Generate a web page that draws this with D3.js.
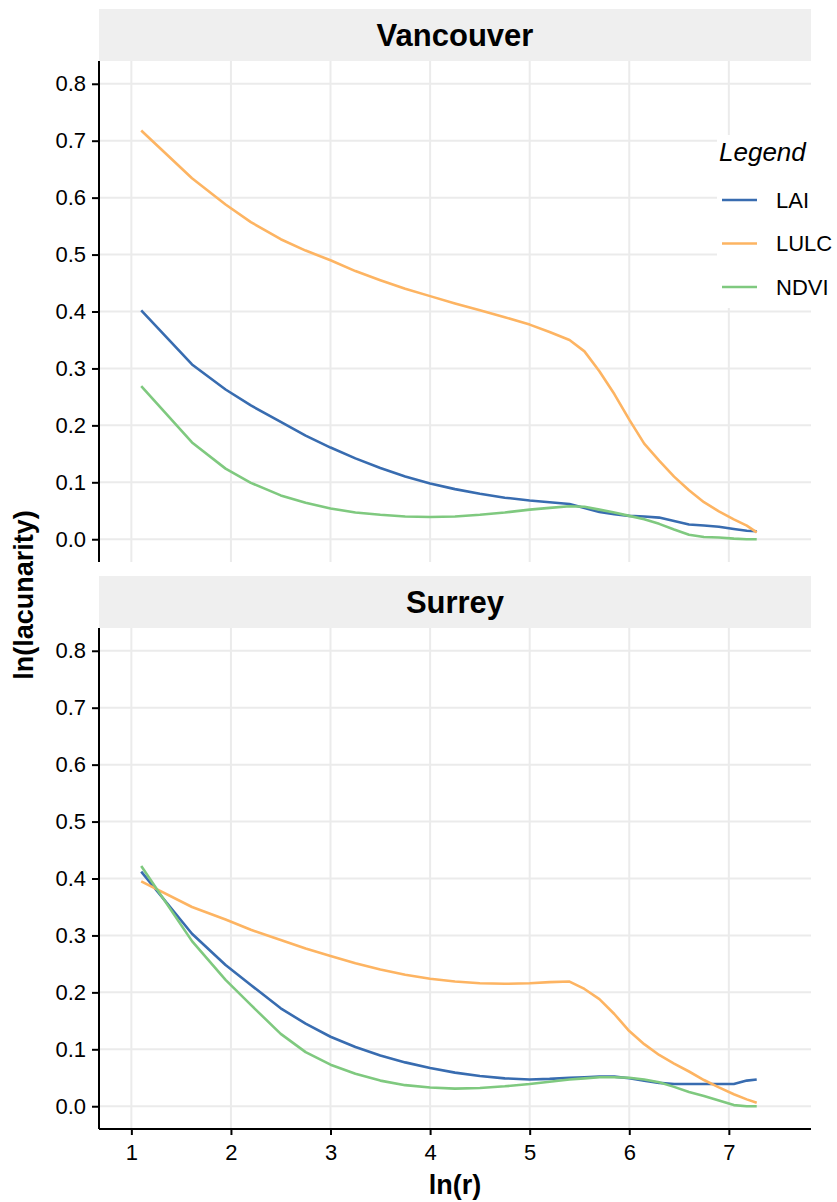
<!DOCTYPE html>
<html>
<head>
<meta charset="utf-8">
<script src="https://cdn.jsdelivr.net/npm/d3@7"></script>
<style>
  body { margin: 0; background: #fff; }
  text { font-family: "Liberation Sans", Arial, sans-serif; }
</style>
</head>
<body>
<svg id="chart"></svg>
<script>
// ln(r) sample positions
const lnR = [1.099, 1.609, 1.946, 2.2, 2.5, 2.75, 3.0, 3.25, 3.5, 3.75, 4.0, 4.25, 4.5, 4.75, 5.0,
  5.2, 5.4, 5.55, 5.7, 5.85, 6.0, 6.15, 6.3, 6.45, 6.6, 6.75, 6.9, 7.05, 7.18, 7.28]

const vanLAI = [0.402, 0.307, 0.263, 0.235, 0.206, 0.182, 0.161, 0.142, 0.125, 0.110, 0.098, 0.088, 0.080,
  0.073, 0.068, 0.065, 0.062, 0.055, 0.048, 0.044, 0.041, 0.040, 0.038, 0.032, 0.026, 0.024, 0.022, 0.018, 0.015, 0.014]
const vanLULC = [0.718, 0.634, 0.588, 0.557, 0.527, 0.507, 0.490, 0.471, 0.455, 0.440, 0.427, 0.414, 0.402,
  0.390, 0.377, 0.364, 0.350, 0.330, 0.295, 0.255, 0.210, 0.168, 0.138, 0.110, 0.086, 0.065, 0.049, 0.035, 0.024, 0.012]
const vanNDVI = [0.269, 0.170, 0.124, 0.099, 0.077, 0.064, 0.054, 0.047, 0.043, 0.040, 0.039, 0.040, 0.043,
  0.047, 0.052, 0.055, 0.058, 0.057, 0.052, 0.047, 0.041, 0.035, 0.027, 0.017, 0.008, 0.004, 0.003, 0.001, 0.000, 0.000]

const surLAI = [0.412, 0.303, 0.248, 0.213, 0.172, 0.145, 0.122, 0.104, 0.089, 0.077, 0.067, 0.059, 0.053,
  0.049, 0.047, 0.048, 0.050, 0.051, 0.052, 0.052, 0.049, 0.045, 0.041, 0.039, 0.039, 0.039, 0.039, 0.039, 0.045, 0.047]
const surLULC = [0.395, 0.350, 0.328, 0.310, 0.292, 0.277, 0.264, 0.251, 0.240, 0.231, 0.224, 0.219, 0.216,
  0.215, 0.216, 0.218, 0.219, 0.206, 0.188, 0.162, 0.132, 0.109, 0.090, 0.075, 0.061, 0.046, 0.033, 0.021, 0.012, 0.006]
const surNDVI = [0.422, 0.290, 0.222, 0.178, 0.127, 0.095, 0.073, 0.057, 0.045, 0.037, 0.033, 0.031, 0.032,
  0.035, 0.039, 0.043, 0.047, 0.049, 0.051, 0.051, 0.050, 0.047, 0.042, 0.034, 0.025, 0.018, 0.010, 0.002, 0.000, 0.000]

const seriesNames = ["LAI", "LULC", "NDVI"]
const seriesColors = ["#386CB0", "#FDB462", "#7FC97F"]
const facets = [
  {name: "Vancouver", values: [vanLAI, vanLULC, vanNDVI]},
  {name: "Surrey", values: [surLAI, surLULC, surNDVI]}
]
const xTicks = [1, 2, 3, 4, 5, 6, 7]
const yTicks = [0, 0.1, 0.2, 0.3, 0.4, 0.5, 0.6, 0.7, 0.8]

let
  width = 837,
  height = 1202,
  left = 99,
  right = 811,
  stripH = 52,
  panelH = 501

const panelTops = [61, 628]

const svg = d3.select("#chart")
  .attr("width", width)
  .attr("height", height)

const x = d3.scaleLinear().domain([0.675, 7.825]).range([left, right])

const line = d3.line()
  .x(d => x(d[0]))

facets.forEach((f, i) => {
  const top = panelTops[i]
  const y = d3.scaleLinear().domain([-0.04, 0.84]).range([top + panelH, top])
  const g = svg.append("g")

  // strip
  g.append("rect")
    .attr("x", left).attr("y", top - stripH)
    .attr("width", right - left).attr("height", stripH)
    .attr("fill", "#efefef")
  g.append("text")
    .attr("x", (left + right) / 2).attr("y", top - stripH / 2)
    .attr("dy", "0.36em")
    .attr("text-anchor", "middle")
    .attr("font-weight", "bold")
    .attr("font-size", 31)
    .text(f.name)

  // grid
  g.append("g").selectAll("line").data(yTicks).join("line")
    .attr("x1", left).attr("x2", right)
    .attr("y1", d => y(d)).attr("y2", d => y(d))
    .attr("stroke", "#ebebeb").attr("stroke-width", 2)
  g.append("g").selectAll("line").data(xTicks).join("line")
    .attr("x1", d => x(d)).attr("x2", d => x(d))
    .attr("y1", top).attr("y2", top + panelH)
    .attr("stroke", "#ebebeb").attr("stroke-width", 2)

  // lines
  f.values.forEach((vals, k) => {
    g.append("path")
      .datum(lnR.map((r, j) => [r, vals[j]]))
      .attr("fill", "none")
      .attr("stroke", seriesColors[k])
      .attr("stroke-width", 2.6)
      .attr("stroke-linejoin", "round")
      .attr("d", line.y(d => y(d[1])))
  })

  // y axis
  const ya = g.append("g")
    .attr("transform", `translate(${left},0)`)
    .call(d3.axisLeft(y).tickValues(yTicks).tickFormat(d3.format(".1f")).tickSize(7).tickPadding(6))
  ya.select(".domain").attr("stroke", "#000").attr("stroke-width", 2).attr("d", `M0,${top}V${top + panelH}`)
  ya.selectAll(".tick line").attr("stroke", "#000").attr("stroke-width", 2)
  ya.selectAll(".tick text").attr("fill", "#000").attr("font-size", 22)
    .attr("font-family", "Liberation Sans, Arial, sans-serif")

  if (i === facets.length - 1) {
    const xa = g.append("g")
      .attr("transform", `translate(0,${top + panelH})`)
      .call(d3.axisBottom(x).tickValues(xTicks).tickSize(6).tickPadding(9))
    xa.select(".domain").attr("stroke", "#000").attr("stroke-width", 2).attr("d", `M${left},0H${right}`)
    xa.selectAll(".tick line").attr("stroke", "#000").attr("stroke-width", 2)
    xa.selectAll(".tick text").attr("fill", "#000").attr("font-size", 22)
      .attr("font-family", "Liberation Sans, Arial, sans-serif")
  }
})

// axis titles
svg.append("text")
  .attr("transform", `translate(33,${(panelTops[0] + panelTops[1] + panelH) / 2}) rotate(-90)`)
  .attr("text-anchor", "middle")
  .attr("font-weight", "bold")
  .attr("font-size", 27)
  .text("ln(lacunarity)")

svg.append("text")
  .attr("x", (left + right) / 2).attr("y", 1194)
  .attr("text-anchor", "middle")
  .attr("font-weight", "bold")
  .attr("font-size", 27)
  .text("ln(r)")

// legend
const legend = svg.append("g")
legend.append("rect")
  .attr("x", 717).attr("y", 135).attr("width", 130).attr("height", 173)
  .attr("fill", "#fff")
legend.append("text")
  .attr("x", 719).attr("y", 161)
  .attr("font-style", "italic")
  .attr("font-size", 26)
  .text("Legend")
const items = legend.selectAll(".item").data(seriesNames).join("g")
  .attr("class", "item")
  .attr("transform", (d, i) => `translate(0,${200 + i * 43.5})`)
items.append("line")
  .attr("x1", 722).attr("x2", 757)
  .attr("stroke", (d, i) => seriesColors[i])
  .attr("stroke-width", 2.6)
items.append("text")
  .attr("x", 776).attr("dy", "0.36em")
  .attr("font-size", 22)
  .text(d => d)
</script>
</body>
</html>
